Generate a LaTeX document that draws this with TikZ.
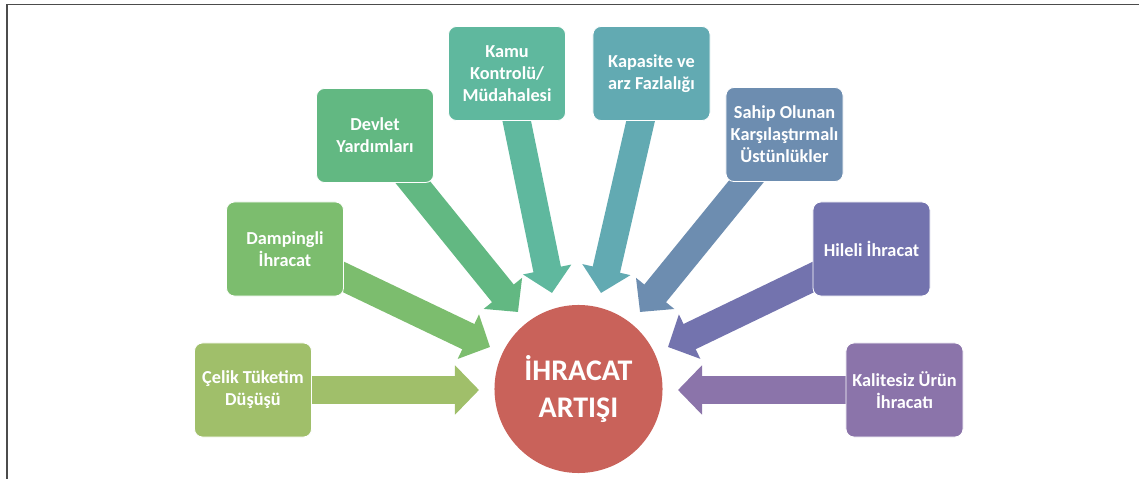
\documentclass[tikz,border=0pt]{standalone}
\usepackage{fontspec}
\setmainfont{Carlito}
\usetikzlibrary{arrows.meta,backgrounds}

\definecolor{celikgreen}{RGB}{160,191,106}
\definecolor{dampgreen}{RGB}{124,189,110}
\definecolor{devletgreen}{RGB}{98,184,130}
\definecolor{kamuteal}{RGB}{95,184,158}
\definecolor{kapasiteteal}{RGB}{98,170,178}
\definecolor{sahipblue}{RGB}{109,141,176}
\definecolor{hilelipurple}{RGB}{115,115,174}
\definecolor{kalitepurple}{RGB}{139,116,170}
\definecolor{hubred}{RGB}{201,98,90}

\tikzset{
  cause/.style={rectangle, rounded corners=0.2cm, minimum width=2.925cm,
    minimum height=2.35cm, inner sep=0pt, align=center, text=white,
    draw=white, line width=0.6pt,
    font=\bfseries\fontsize{13}{15.6}\selectfont},
  hub/.style={circle, minimum size=4.2cm, inner sep=0pt, align=center,
    fill=hubred, text=white, font=\bfseries\fontsize{21.3}{26.5}\selectfont},
  push/.style={line width=0.7cm, -{Triangle[length=0.6cm,width=1.2cm]}},
}

\begin{document}
\begin{tikzpicture}[x=0.025cm,y=-0.025cm]
        \useasboundingbox (0,0) rectangle (1139,479);
        % Frame
        \draw[line width=0.03cm, gray!60!black] (7,479) -- (7,4.5) -- (1139,4.5);

        % The result in the middle
        \node[hub] (hub) at (578.5,389) {İHRACAT\\ARTIŞI};

        % The causes round it
        \node[cause, fill=celikgreen] (celik) at (253,390) {Çelik Tüketim\\Düşüşü};
        \node[cause, fill=dampgreen] (damping) at (285,249) {Dampingli\\İhracat};
        \node[cause, fill=devletgreen] (devlet) at (375,135.5) {Devlet\\Yardımları};
        \node[cause, fill=kamuteal] (kamu) at (507,73.5) {Kamu\\Kontrolü/\\Müdahalesi};
        \node[cause, fill=kapasiteteal] (kapasite) at (651.5,73.5) {Kapasite ve\\arz Fazlalığı};
        \node[cause, fill=sahipblue] (sahip) at (784.5,134.5) {Sahip Olunan\\Karşılaştırmalı\\Üstünlükler};
        \node[cause, fill=hilelipurple] (hileli) at (871.5,249) {Hileli İhracat};
        \node[cause, fill=kalitepurple] (kalite) at (904.5,390) {Kalitesiz Ürün\\İhracatı};

        % Tips of the arrows
        \coordinate (tcelik) at (479,390);
        \coordinate (tdamping) at (490,347);
        \coordinate (tdevlet) at (518,312);
        \coordinate (tkamu) at (552,293);
        \coordinate (tkapasite) at (601,293);
        \coordinate (tsahip) at (640,312);
        \coordinate (thileli) at (668,347);
        \coordinate (tkalite) at (678,390);

        % Draw the arrows towards the middle
        \begin{scope}[on background layer]
        \draw[push, celikgreen] (celik.center) -- (tcelik);
        \draw[push, dampgreen] (damping.center) -- (tdamping);
        \draw[push, devletgreen] (devlet.center) -- (tdevlet);
        \draw[push, kamuteal] (kamu.center) -- (tkamu);
        \draw[push, kapasiteteal] (kapasite.center) -- (tkapasite);
        \draw[push, sahipblue] (sahip.center) -- (tsahip);
        \draw[push, hilelipurple] (hileli.center) -- (thileli);
        \draw[push, kalitepurple] (kalite.center) -- (tkalite);
        \end{scope}
    \end{tikzpicture}
\end{document}
